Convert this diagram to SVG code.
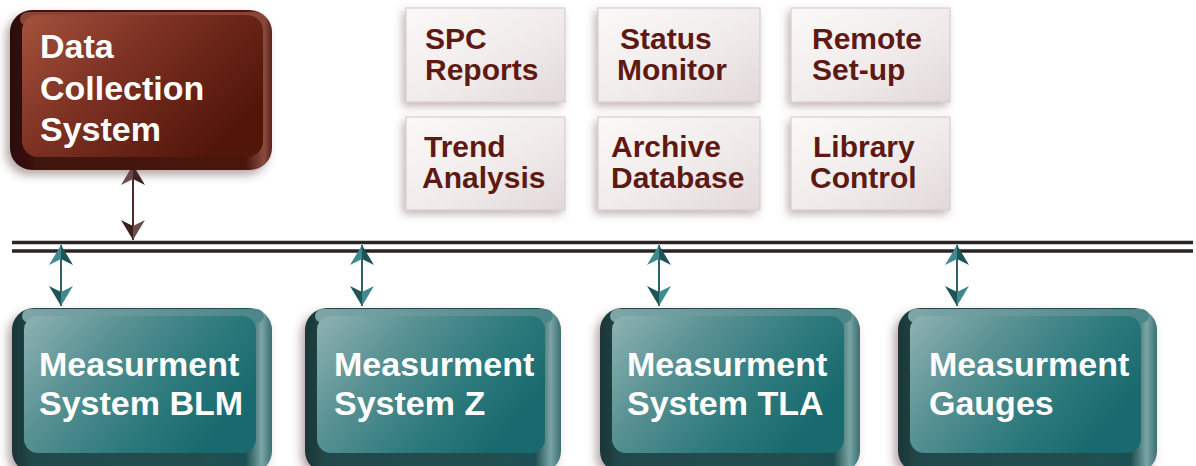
<svg xmlns="http://www.w3.org/2000/svg" width="1196" height="466" viewBox="0 0 1196 466">
<defs>
<style>
.t{font-family:"Liberation Sans",Arial,Helvetica,sans-serif;font-weight:bold}
.wt{fill:#ffffff;font-size:34px}
.bt{fill:#5e1a12;font-size:30px}
.bus{stroke:#2b2424;stroke-width:3.5;fill:none}
.ab{stroke:#4a2c2c;stroke-width:2;fill:none;marker-start:url(#hb);marker-end:url(#hb)}
.at{stroke:#2a6466;stroke-width:2;fill:none;marker-start:url(#ht);marker-end:url(#ht)}
.card{fill:url(#cardG);stroke:#d2c8c8;stroke-width:1;filter:url(#sh)}
.tout{fill:url(#tealEdge);filter:url(#sh2)}
.tface{fill:url(#tealFace)}
.ttop{fill:url(#tealTop)}
</style>
<linearGradient id="cardG" x1="0" y1="0" x2="1" y2="1">
<stop offset="0" stop-color="#fbf8f8"/>
<stop offset="0.5" stop-color="#f2eded"/>
<stop offset="1" stop-color="#e2d9d9"/>
</linearGradient>
<linearGradient id="brownEdge" x1="0" y1="0" x2="1" y2="0">
<stop offset="0" stop-color="#2a0a06"/>
<stop offset="0.1" stop-color="#3e130c"/>
<stop offset="0.9" stop-color="#4a170e"/>
<stop offset="0.97" stop-color="#8a4b40"/>
<stop offset="1" stop-color="#5a2219"/>
</linearGradient>
<linearGradient id="brownFace" x1="0" y1="0" x2="1" y2="0.6">
<stop offset="0" stop-color="#a4533c"/>
<stop offset="0.45" stop-color="#7d3123"/>
<stop offset="1" stop-color="#521609"/>
</linearGradient>
<linearGradient id="tealEdge" x1="0" y1="0" x2="1" y2="0">
<stop offset="0" stop-color="#1a3536"/>
<stop offset="0.08" stop-color="#24484a"/>
<stop offset="0.9" stop-color="#1f5052"/>
<stop offset="0.96" stop-color="#7aa5a6"/>
<stop offset="1" stop-color="#3c6e70"/>
</linearGradient>
<linearGradient id="tealFace" x1="0" y1="0" x2="1" y2="0.5">
<stop offset="0" stop-color="#8fb2b2"/>
<stop offset="0.35" stop-color="#5a9294"/>
<stop offset="0.7" stop-color="#2f7b7e"/>
<stop offset="1" stop-color="#196a6e"/>
</linearGradient>
<linearGradient id="tealTop" x1="0" y1="0" x2="1" y2="0">
<stop offset="0" stop-color="#7ea6a7"/>
<stop offset="1" stop-color="#4b8587"/>
</linearGradient>
<filter id="sh" x="-20%" y="-20%" width="140%" height="150%">
<feDropShadow dx="-3" dy="4" stdDeviation="4" flood-color="#6a4a4a" flood-opacity="0.4"/>
</filter>
<filter id="sh2" x="-20%" y="-20%" width="140%" height="150%">
<feDropShadow dx="-4" dy="5" stdDeviation="5" flood-color="#5a3a3a" flood-opacity="0.45"/>
</filter>
<marker id="hb" viewBox="-22 -13 24 26" refX="0" refY="0" markerWidth="24" markerHeight="26" markerUnits="userSpaceOnUse" orient="auto-start-reverse">
<path d="M0,0 L-20,-12 L-14,0 Z" fill="#6e4c4c"/>
<path d="M0,0 L-14,0 L-20,12 Z" fill="#3a1f1f"/>
</marker>
<marker id="ht" viewBox="-22 -13 24 26" refX="0" refY="0" markerWidth="24" markerHeight="26" markerUnits="userSpaceOnUse" orient="auto-start-reverse">
<path d="M0,0 L-20,-12 L-14,0 Z" fill="#3f8a8c"/>
<path d="M0,0 L-14,0 L-20,12 Z" fill="#1d5456"/>
</marker>
</defs>
<rect width="1196" height="466" fill="#ffffff"/>

<g id="connectors">
<line class="bus" x1="12" y1="242.5" x2="1193" y2="242.5"/>
<line class="bus" x1="12" y1="251" x2="1193" y2="251"/>
<line class="ab" x1="133" y1="165" x2="133" y2="240"/>
<line class="at" x1="61" y1="245" x2="61" y2="306"/>
<line class="at" x1="362" y1="245" x2="362" y2="306"/>
<line class="at" x1="659" y1="245" x2="659" y2="306"/>
<line class="at" x1="957" y1="245" x2="957" y2="306"/>
</g>

<g id="data-collection">
<rect x="10" y="10" width="262" height="160" rx="22" fill="url(#brownEdge)" filter="url(#sh2)"/>
<rect x="20" y="12" width="243" height="14" rx="8" fill="#8a4434"/>
<rect x="22" y="15" width="241" height="142" rx="16" fill="url(#brownFace)"/>
<text class="t wt" x="40" y="58">Data</text>
<text class="t wt" x="40" y="100">Collection</text>
<text class="t wt" x="40" y="141">System</text>
</g>

<g id="spc-reports">
<rect class="card" x="406" y="8" width="159" height="94"/>
<text class="t bt" x="425" y="49">SPC</text>
<text class="t bt" x="425" y="80">Reports</text>
</g>
<g id="status-monitor">
<rect class="card" x="598" y="8" width="162" height="94"/>
<text class="t bt" x="620" y="49">Status</text>
<text class="t bt" x="617" y="80">Monitor</text>
</g>
<g id="remote-setup">
<rect class="card" x="791" y="8" width="159" height="94"/>
<text class="t bt" x="812" y="49">Remote</text>
<text class="t bt" x="812" y="80">Set-up</text>
</g>
<g id="trend-analysis">
<rect class="card" x="406" y="117" width="159" height="93"/>
<text class="t bt" x="424" y="157">Trend</text>
<text class="t bt" x="422" y="188">Analysis</text>
</g>
<g id="archive-database">
<rect class="card" x="598" y="117" width="162" height="93"/>
<text class="t bt" x="611" y="157">Archive</text>
<text class="t bt" x="611" y="188">Database</text>
</g>
<g id="library-control">
<rect class="card" x="791" y="117" width="159" height="93"/>
<text class="t bt" x="813" y="157">Library</text>
<text class="t bt" x="810" y="188">Control</text>
</g>

<g id="ms-blm">
<rect class="tout" x="12" y="308" width="260" height="165" rx="22"/>
<rect class="ttop" x="22" y="309" width="242" height="14" rx="8"/>
<rect class="tface" x="24" y="316" width="232" height="137" rx="14"/>
<text class="t wt" x="39" y="376">Measurment</text>
<text class="t wt" x="39" y="415">System BLM</text>
</g>
<g id="ms-z">
<rect class="tout" x="305" y="308" width="256" height="165" rx="22"/>
<rect class="ttop" x="315" y="309" width="238" height="14" rx="8"/>
<rect class="tface" x="317" y="316" width="228" height="137" rx="14"/>
<text class="t wt" x="334" y="376">Measurment</text>
<text class="t wt" x="334" y="415">System Z</text>
</g>
<g id="ms-tla">
<rect class="tout" x="600" y="308" width="260" height="165" rx="22"/>
<rect class="ttop" x="610" y="309" width="242" height="14" rx="8"/>
<rect class="tface" x="612" y="316" width="232" height="137" rx="14"/>
<text class="t wt" x="627" y="376">Measurment</text>
<text class="t wt" x="627" y="415">System TLA</text>
</g>
<g id="ms-gauges">
<rect class="tout" x="898" y="308" width="259" height="165" rx="22"/>
<rect class="ttop" x="908" y="309" width="241" height="14" rx="8"/>
<rect class="tface" x="910" y="316" width="231" height="137" rx="14"/>
<text class="t wt" x="929" y="376">Measurment</text>
<text class="t wt" x="929" y="415">Gauges</text>
</g>
</svg>
